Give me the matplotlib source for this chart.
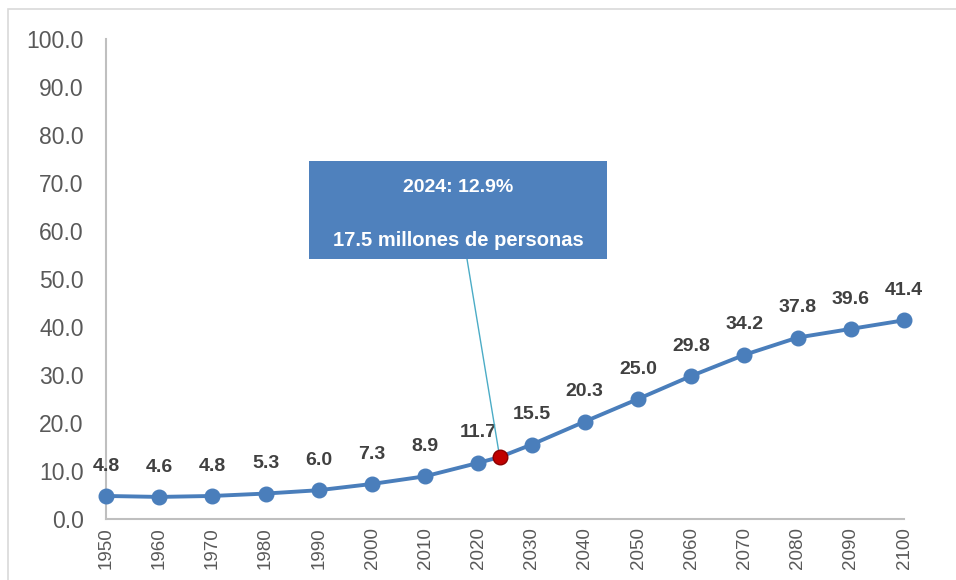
import matplotlib
matplotlib.use("Agg")
import matplotlib.pyplot as plt
from matplotlib.patches import Rectangle

years = [1950, 1960, 1970, 1980, 1990, 2000, 2010, 2020, 2030, 2040, 2050, 2060, 2070, 2080, 2090, 2100]
values = [4.8, 4.6, 4.8, 5.3, 6.0, 7.3, 8.9, 11.7, 15.5, 20.3, 25.0, 29.8, 34.2, 37.8, 39.6, 41.4]
highlight_year = 2024
highlight_value = 12.9
box_lines = ["2024: 12.9%", "17.5 millones de personas"]
yticks = [0, 10, 20, 30, 40, 50, 60, 70, 80, 90, 100]

W, H = 956, 580
fig = plt.figure(figsize=(W / 100, H / 100), dpi=100)
plt.rcParams['font.family'] = ['Liberation Sans', 'DejaVu Sans']

# outer chart frame
fig.patches.append(Rectangle((8 / W, -0.05), 1.2, 1 - 9 / H + 0.05, transform=fig.transFigure,
                             fill=False, edgecolor='#D9D9D9', linewidth=1.2))

ax = fig.add_axes([106 / W, (H - 519) / H, (904 - 106) / W, (519 - 39) / H])
ax.set_xlim(1950, 2100)
ax.set_ylim(0, 100)

# line including highlight point
xs = years[:8] + [highlight_year] + years[8:]
ys = values[:8] + [highlight_value] + values[8:]
ax.plot(xs, ys, color='#4A7EBB', linewidth=2.8, clip_on=False, zorder=3)
ax.plot(years, values, linestyle='none', marker='o', markersize=10.5,
        color='#4A7EBB', clip_on=False, zorder=4)
ax.plot([highlight_year], [highlight_value], linestyle='none', marker='o', markersize=10.5,
        markerfacecolor='#C00000', markeredgecolor='#8B0000', markeredgewidth=1, clip_on=False, zorder=5)

for x, v in zip(years, values):
    ax.annotate(f"{v:.1f}", (x, v), xytext=(0, 21.5), textcoords='offset points',
                ha='center', va='center', fontsize=14, fontweight='bold', color='#404040')

# callout box
box_x0, box_x1 = 309, 607
box_y0, box_y1 = 161, 259
fig.patches.append(Rectangle((box_x0 / W, (H - box_y1) / H), (box_x1 - box_x0) / W, (box_y1 - box_y0) / H,
                             transform=fig.transFigure, facecolor='#4F81BD', edgecolor='none', zorder=6))
fig.text((box_x0 + box_x1) / 2 / W, (H - 187) / H, box_lines[0], ha='center', va='center',
         color='white', fontsize=14, fontweight='bold', zorder=7)
fig.text((box_x0 + box_x1) / 2 / W, (H - 240) / H, box_lines[1], ha='center', va='center',
         color='white', fontsize=14.5, fontweight='bold', zorder=7)

# leader line from box to point
ax.annotate('', xy=(highlight_year, highlight_value), xycoords='data',
            xytext=(467 / W, (H - 259) / H), textcoords='figure fraction',
            arrowprops=dict(arrowstyle='-', color='#4BACC6', linewidth=1, shrinkA=0, shrinkB=0),
            zorder=4.5)

ax.set_xticks(years)
ax.set_xticklabels([str(y) for y in years], rotation=90, fontsize=13.5, color='#595959')
ax.set_yticks(yticks)
ax.set_yticklabels([f"{t:.1f}" for t in yticks], fontsize=16.5, color='#595959')
ax.tick_params(axis='both', length=0, pad=6)
ax.tick_params(axis='y', pad=16)

for s in ['top', 'right']:
    ax.spines[s].set_visible(False)
for s in ['left', 'bottom']:
    ax.spines[s].set_color('#BFBFBF')
    ax.spines[s].set_linewidth(1.5)

fig.savefig('out.png', dpi=100)
